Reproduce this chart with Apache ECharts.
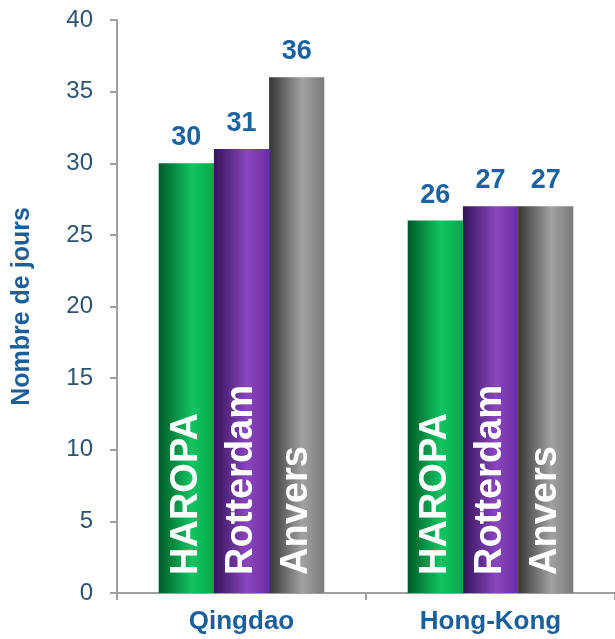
<!DOCTYPE html>
<html>
<head>
<meta charset="utf-8">
<script src="https://cdn.jsdelivr.net/npm/echarts@6/dist/echarts.min.js"></script>
<style>
html,body{margin:0;padding:0;background:#fff;}
#chart{width:615px;height:639px;}
</style>
</head>
<body>
<div id="chart"></div>
<script>
const categories = ['Qingdao', 'Hong-Kong'];
const seriesNames = ['HAROPA', 'Rotterdam', 'Anvers'];
const haropa = [30, 26];
const rotterdam = [31, 27];
const anvers = [36, 27];
const yTicks = [0, 5, 10, 15, 20, 25, 30, 35, 40];

function grad(c0, c1, c2) {
  return new echarts.graphic.LinearGradient(0, 0, 1, 0, [
    {offset: 0, color: c0},
    {offset: 0.6, color: c1},
    {offset: 1, color: c2}
  ]);
}
const colors = [
  grad('#005a28', '#12c462', '#05a84a'),
  grad('#35145a', '#8a46be', '#6a2ea0'),
  grad('#363636', '#a2a2a2', '#7a7a7a')
];
const values = [haropa, rotterdam, anvers];
const FONT = 'Liberation Sans, Arial';

const chart = echarts.init(document.getElementById('chart'));
chart.setOption({
  animation: false,
  grid: {left: 117, right: -6, top: 20, bottom: 46, containLabel: false},
  xAxis: {
    type: 'category',
    data: categories,
    axisLine: {lineStyle: {color: '#a0a0a0', width: 2}},
    axisTick: {show: true, length: 7, inside: false, lineStyle: {color: '#a0a0a0', width: 2}},
    axisLabel: {color: '#1a5f9a', fontFamily: FONT, fontWeight: 'bold', fontSize: 26, margin: 16}
  },
  yAxis: {
    type: 'value',
    min: yTicks[0],
    max: yTicks[yTicks.length - 1],
    interval: 5,
    splitLine: {show: false},
    axisLine: {show: true, lineStyle: {color: '#a0a0a0', width: 2}},
    axisTick: {show: true, length: 7, lineStyle: {color: '#a0a0a0', width: 2}},
    axisLabel: {color: '#2b5470', fontFamily: FONT, fontSize: 24, margin: 24},
    name: 'Nombre de jours',
    nameLocation: 'middle',
    nameRotate: 90,
    nameGap: 82,
    nameTextStyle: {color: '#1a5f9a', fontFamily: FONT, fontWeight: 'bold', fontSize: 25}
  },
  series: seriesNames.map((name, i) => ({
    name: name,
    type: 'bar',
    data: values[i],
    barGap: '0%',
    barCategoryGap: '33.5%',
    itemStyle: {color: colors[i]},
    label: {
      show: true,
      position: 'insideBottom',
      rotate: 90,
      align: 'left',
      verticalAlign: 'middle',
      distance: 18,
      formatter: '{a}',
      color: '#ffffff',
      fontFamily: FONT,
      fontWeight: 'bold',
      fontSize: 38
    }
  })).concat(seriesNames.map((name, i) => ({
    name: name + '_v',
    type: 'pictorialBar',
    data: values[i],
    barGap: '0%',
    barCategoryGap: '33.5%',
    symbol: 'rect',
    symbolSize: ['100%', '100%'],
    symbolPosition: 'start',
    itemStyle: {color: 'rgba(0,0,0,0)'},
    silent: true,
    z: 5,
    label: {
      show: true,
      position: 'top',
      distance: 12,
      color: '#1a62a0',
      fontFamily: FONT,
      fontWeight: 'bold',
      fontSize: 27
    }
  })))
});
</script>
</body>
</html>
